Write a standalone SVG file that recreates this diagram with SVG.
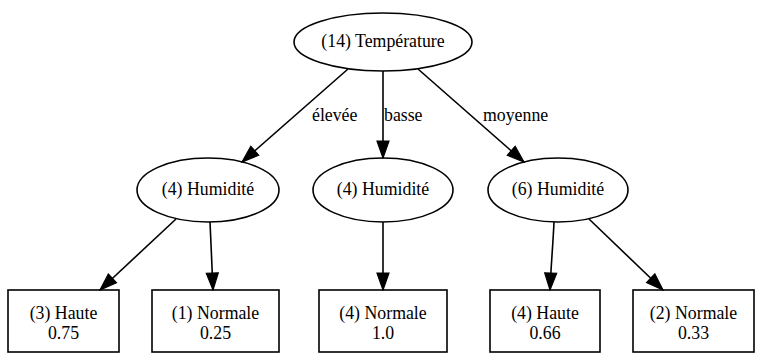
<svg xmlns="http://www.w3.org/2000/svg" width="757" height="354" viewBox="0 0 757 354">
  <style>
    .shape { fill: #ffffff; stroke: #000000; stroke-width: 1.6; }
    .lbl { font-family: "Liberation Serif", "Times New Roman", serif; font-size: 17.8px; fill: #000000; }
    .mid { text-anchor: middle; }
    .edge { fill: none; stroke: #000000; stroke-width: 1.6; }
  </style>
  <defs>
    <marker id="arrow" markerUnits="userSpaceOnUse" markerWidth="19" markerHeight="15" viewBox="0 0 19 15" refX="18" refY="7.5" orient="auto">
      <path d="M1,1.5 L18,7.5 L1,13.5 Z" fill="#000000" stroke="#000000" stroke-width="1.2"/>
    </marker>
  </defs>
  <rect width="757" height="354" fill="#ffffff"/>

  <!-- decision nodes -->
  <g id="n-temperature">
    <ellipse class="shape" cx="383" cy="42" rx="89" ry="29"/>
    <text class="lbl mid" x="383" y="47">(14) Température</text>
  </g>
  <g id="n-humidite-elevee">
    <ellipse class="shape" cx="208" cy="190" rx="71" ry="32"/>
    <text class="lbl mid" x="208" y="195">(4) Humidité</text>
  </g>
  <g id="n-humidite-basse">
    <ellipse class="shape" cx="383" cy="190" rx="70" ry="32"/>
    <text class="lbl mid" x="383" y="195">(4) Humidité</text>
  </g>
  <g id="n-humidite-moyenne">
    <ellipse class="shape" cx="558" cy="190" rx="70" ry="32"/>
    <text class="lbl mid" x="558" y="195">(6) Humidité</text>
  </g>

  <!-- leaves -->
  <g id="leaf-1">
    <rect class="shape" x="8" y="290" width="111" height="62"/>
    <text class="lbl mid" x="63.5" y="319">(3) Haute</text>
    <text class="lbl mid" x="63.5" y="339">0.75</text>
  </g>
  <g id="leaf-2">
    <rect class="shape" x="152" y="290" width="127" height="62"/>
    <text class="lbl mid" x="215.5" y="319">(1) Normale</text>
    <text class="lbl mid" x="215.5" y="339">0.25</text>
  </g>
  <g id="leaf-3">
    <rect class="shape" x="319" y="290" width="128" height="62"/>
    <text class="lbl mid" x="383" y="319">(4) Normale</text>
    <text class="lbl mid" x="383" y="339">1.0</text>
  </g>
  <g id="leaf-4">
    <rect class="shape" x="490" y="290" width="110" height="62"/>
    <text class="lbl mid" x="545" y="319">(4) Haute</text>
    <text class="lbl mid" x="545" y="339">0.66</text>
  </g>
  <g id="leaf-5">
    <rect class="shape" x="633" y="290" width="121" height="62"/>
    <text class="lbl mid" x="693.5" y="319">(2) Normale</text>
    <text class="lbl mid" x="693.5" y="339">0.33</text>
  </g>

  <!-- connectors -->
  <g id="edges">
    <path class="edge" marker-end="url(#arrow)" d="M348,69 L242,162"/>
    <path class="edge" marker-end="url(#arrow)" d="M383,71 L383,158"/>
    <path class="edge" marker-end="url(#arrow)" d="M418,69 L524,162"/>
    <path class="edge" marker-end="url(#arrow)" d="M176,219 L100,290"/>
    <path class="edge" marker-end="url(#arrow)" d="M210,222 C211,245 212,265 213,290"/>
    <path class="edge" marker-end="url(#arrow)" d="M383,222 L383,290"/>
    <path class="edge" marker-end="url(#arrow)" d="M554,222 C553,245 551,265 550,290"/>
    <path class="edge" marker-end="url(#arrow)" d="M589,219 L663,290"/>
    <text class="lbl" x="312" y="121">élevée</text>
    <text class="lbl" x="384" y="121">basse</text>
    <text class="lbl" x="483" y="121">moyenne</text>
  </g>
</svg>
